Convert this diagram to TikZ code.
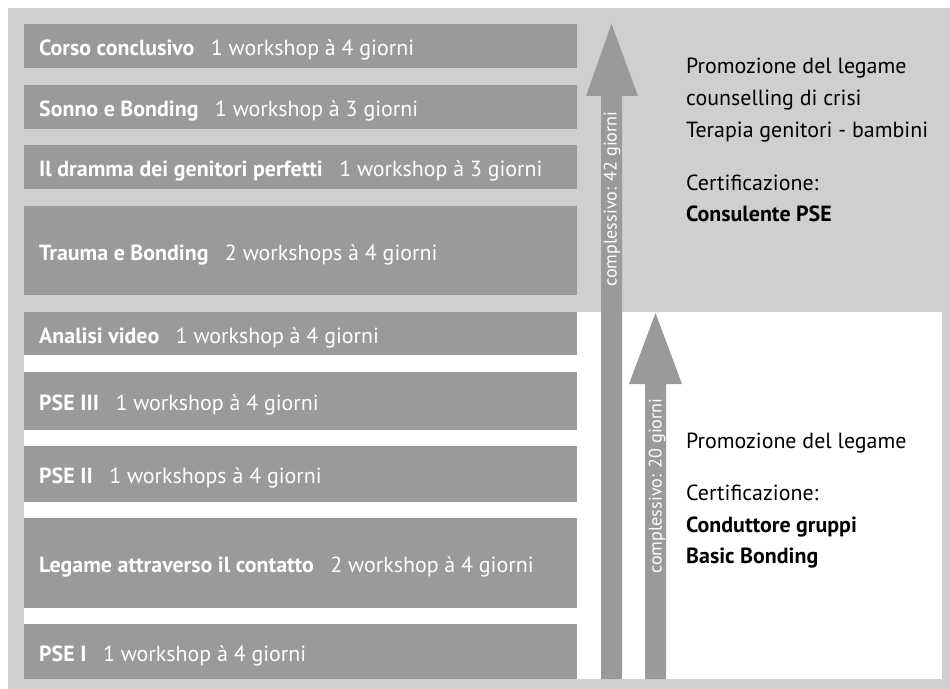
\documentclass[tikz,border=0pt]{standalone}
\usepackage{fontspec}
\setmainfont{PT Sans}
\definecolor{lightg}{HTML}{CFCFCF}
\definecolor{darkg}{HTML}{999A99}
\begin{document}
\begin{tikzpicture}[x=1bp,y=-1bp,
  bar/.style={fill=darkg, draw=none, inner sep=0pt, anchor=north west, minimum width=553bp},
  bartext/.style={text=white, anchor=base west, inner sep=0pt, font=\fontsize{22}{26}\selectfont},
  sidetext/.style={text=black, anchor=base west, inner sep=0pt, font=\fontsize{22}{26}\selectfont},
  arrtext/.style={text=white, rotate=90, inner sep=0pt, font=\fontsize{18.2}{22}\selectfont}]
\useasboundingbox (0,0) rectangle (950,689);
\fill[lightg] (8,8) rectangle (950,689);
\fill[white] (24,312) rectangle (942,679);
\foreach \n/\t/\b/\L/\R in {
  b1/24/68/Corso conclusivo/1 workshop à 4 giorni,
  b2/85/129/Sonno e Bonding/1 workshop à 3 giorni,
  b3/145/189/Il dramma dei genitori perfetti/1 workshop à 3 giorni,
  b4/206/295/Trauma e Bonding/2 workshops à 4 giorni,
  b5/312/355/Analisi video/1 workshop à 4 giorni,
  b6/372/430/PSE III/1 workshop à 4 giorni,
  b7/446/502/PSE II/1 workshops à 4 giorni,
  b8/518/608/Legame attraverso il contatto/2 workshop à 4 giorni,
  b9/624/679/PSE I/1 workshop à 4 giorni}
{
  \pgfmathsetmacro{\hh}{\b-\t}
  \pgfmathsetmacro{\yy}{(\t+\b)/2+9.5}
  \node[bar, minimum height=\hh bp] (\n) at (24,\t) {};
  \node[bartext] (\n-t) at (39,\yy) {\textbf{\L}\hspace{0.75em}\R};
}
% arrows
\fill[darkg] (601,679) -- (601,96) -- (586,96) -- (611.5,24) -- (638,96) -- (622,96) -- (622,679) -- cycle;
\fill[darkg] (645,679) -- (645,384) -- (629,384) -- (655.5,313) -- (682,384) -- (666,384) -- (666,679) -- cycle;
\node[arrtext] (a1) at (612,199) {complessivo: 42 giorni};
\node[arrtext] (a2) at (657,486) {complessivo: 20 giorni};
% side texts upper
\node[sidetext] (u1) at (686,74) {Promozione del legame};
\node[sidetext] (u2) at (686,106) {counselling di crisi};
\node[sidetext] (u3) at (686,138) {Terapia genitori - bambini};
\node[sidetext] (u4) at (686,190) {Certificazione:};
\node[sidetext] (u5) at (686,221) {\textbf{Consulente PSE}};
% side texts lower
\node[sidetext] (l1) at (686,448) {Promozione del legame};
\node[sidetext] (l2) at (686,500) {Certificazione:};
\node[sidetext] (l3) at (686,532) {\textbf{Conduttore gruppi}};
\node[sidetext] (l4) at (686,563) {\textbf{Basic Bonding}};
\end{tikzpicture}
\end{document}
